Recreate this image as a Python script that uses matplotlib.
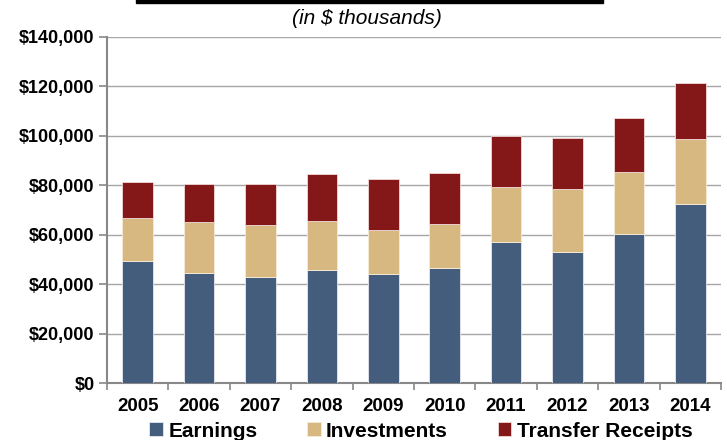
import numpy as np
import matplotlib.pyplot as plt
from matplotlib.patches import Rectangle

plt.rcParams['font.family'] = ['Liberation Sans', 'DejaVu Sans']

years = ['2005', '2006', '2007', '2008', '2009', '2010', '2011', '2012', '2013', '2014']
earnings = [49200, 44600, 42700, 45800, 44300, 46600, 57000, 53100, 60200, 72300]
investments = [17600, 20600, 21100, 19700, 17800, 17800, 22300, 25300, 25200, 26400]
transfers = [14500, 15400, 16700, 19100, 20300, 20600, 20700, 20700, 22000, 22800]

c_earn = '#455d7c'
c_inv = '#d8b881'
c_tr = '#841717'

fig = plt.figure(figsize=(7.27, 4.40), dpi=100)
ax = fig.add_axes([107/727, 57/440, 614/727, 346/440])

x = np.arange(len(years))
earn = np.array(earnings)
inv = np.array(investments)
tr = np.array(transfers)
w = 0.5
ax.bar(x, earn, w, color=c_earn, edgecolor='#e8e8f0', linewidth=0.6, label='Earnings', zorder=3)
ax.bar(x, inv, w, bottom=earn, color=c_inv, edgecolor='#f5ecd8', linewidth=0.6, label='Investments', zorder=3)
ax.bar(x, tr, w, bottom=earn + inv, color=c_tr, edgecolor='#f0d8d8', linewidth=0.6, label='Transfer Receipts', zorder=3)

ax.set_xlim(-0.5, len(years) - 0.5)
ax.set_ylim(0, 140000)
ax.set_yticks(np.arange(0, 140001, 20000))
ax.set_yticklabels(['${:,}'.format(v) for v in range(0, 140001, 20000)],
                   fontsize=13, fontweight='bold')
ax.yaxis.grid(True, color='#a6a6a6', linewidth=1.0, zorder=0)
ax.set_axisbelow(True)

# category labels, ticks on the boundaries
ax.set_xticks(np.arange(-0.5, len(years), 1.0))
ax.set_xticklabels([])
ax.set_xticks(x, minor=True)
ax.set_xticklabels(years, minor=True, fontsize=13.5, fontweight='bold')
ax.tick_params(axis='x', which='minor', length=0, pad=11)
ax.tick_params(axis='x', which='major', length=5, color='#888888', width=1.2)
ax.tick_params(axis='y', length=6, color='#888888', width=1.2, pad=3)

for s in ['top', 'right']:
    ax.spines[s].set_visible(False)
for s in ['left', 'bottom']:
    ax.spines[s].set_color('#888888')
    ax.spines[s].set_linewidth(1.5)

fig.text(0.505, 0.958, '(in $ thousands)', ha='center', va='center',
         fontsize=15, style='italic')
# bottom edge of the cropped title
fig.patches.append(Rectangle((136/727, 1 - 3/440), (603 - 136)/727, 4/440,
                             transform=fig.transFigure, color='black'))

fig.legend(loc='center', bbox_to_anchor=(0.579, 0.02), ncol=3, frameon=False,
           prop={'size': 15, 'weight': 'bold'}, handlelength=0.65, handleheight=0.65,
           handletextpad=0.25, columnspacing=2.4)

fig.savefig('out.png', dpi=100)
